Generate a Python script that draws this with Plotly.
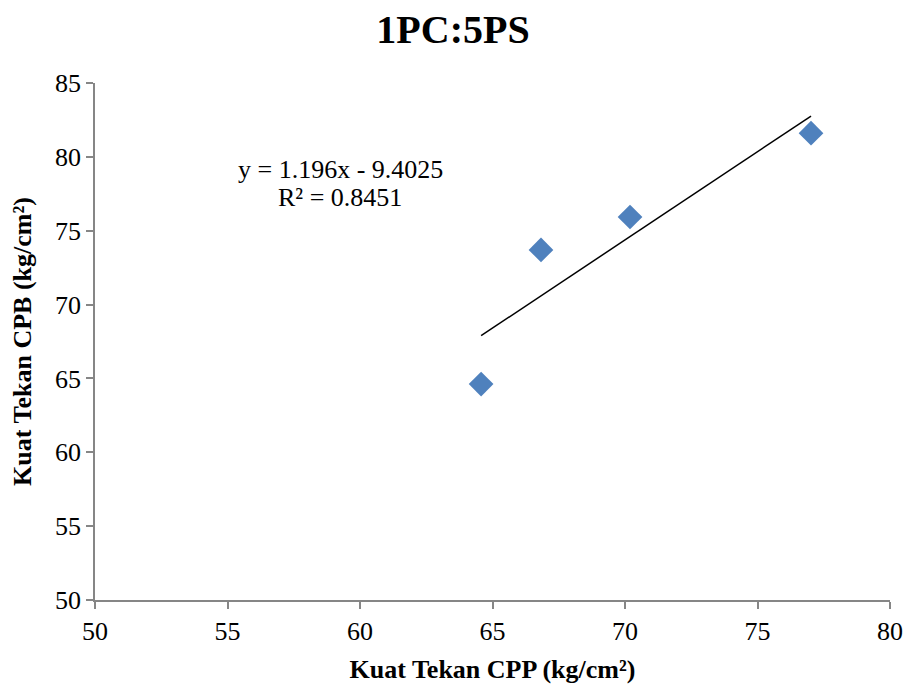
import numpy as np
import plotly.graph_objects as go

x_cpp = [64.57, 66.83, 70.19, 77.02]
y_cpb = [64.62, 73.70, 75.93, 81.60]
x_ticks = [50, 55, 60, 65, 70, 75, 80]
y_ticks = [50, 55, 60, 65, 70, 75, 80, 85]
eq_text = "y = 1.196x - 9.4025"
r2_text = "R² = 0.8451"

slope, intercept = np.polyfit(x_cpp, y_cpb, 1)
tx = [min(x_cpp), max(x_cpp)]
ty = [slope * v + intercept for v in tx]

font = "Liberation Serif, Times New Roman, serif"
axis_color = "#868686"

W, H = 906, 684

fig = go.Figure()
fig.add_trace(go.Scatter(x=tx, y=ty, mode="lines",
                         line=dict(color="black", width=1.5), showlegend=False))
fig.add_trace(go.Scatter(x=x_cpp, y=y_cpb, mode="markers",
                         marker=dict(symbol="diamond", size=19, color="#4F81BD"),
                         showlegend=False))

fig.add_annotation(x=59.28, y=79.15, xref="x", yref="y", text=eq_text, showarrow=False,
                   font=dict(family=font, size=26, color="black"))
fig.add_annotation(x=59.25, y=77.22, xref="x", yref="y", text=r2_text, showarrow=False,
                   font=dict(family=font, size=26, color="black"))

fig.update_layout(
    width=W, height=H,
    margin=dict(l=95, r=16, t=83, b=84),
    paper_bgcolor="white", plot_bgcolor="white",
    title=dict(text="<b>1PC:5PS</b>", x=0.5, xanchor="center",
               y=1 - 29 / H, yanchor="middle",
               font=dict(family=font, size=40, color="black")),
    font=dict(family=font, color="black"),
)
fig.update_xaxes(range=[50, 80], tickvals=x_ticks, showgrid=False, zeroline=False,
                 automargin=False,
                 showline=True, linecolor=axis_color, linewidth=1.5,
                 ticks="outside", ticklen=7, tickcolor=axis_color, tickwidth=1.5,
                 ticklabeloverflow="allow",
                 tickfont=dict(family=font, size=26, color="black"),
                 title=dict(text="<b>Kuat Tekan CPP (kg/cm²)</b>", standoff=16,
                            font=dict(family=font, size=26, color="black")))
fig.update_yaxes(range=[50, 85], tickvals=y_ticks, showgrid=False, zeroline=False,
                 automargin=False,
                 showline=True, linecolor=axis_color, linewidth=1.5,
                 ticks="outside", ticklen=7, tickcolor=axis_color, tickwidth=1.5,
                 ticklabeloverflow="allow",
                 tickfont=dict(family=font, size=26, color="black"),
                 title=dict(text="<b>Kuat Tekan CPB (kg/cm²)</b>", standoff=16,
                            font=dict(family=font, size=26, color="black")))

fig.write_html("out.html", config={"displayModeBar": False},
               post_script="document.body.style.margin='0';document.body.style.overflow='hidden';")
